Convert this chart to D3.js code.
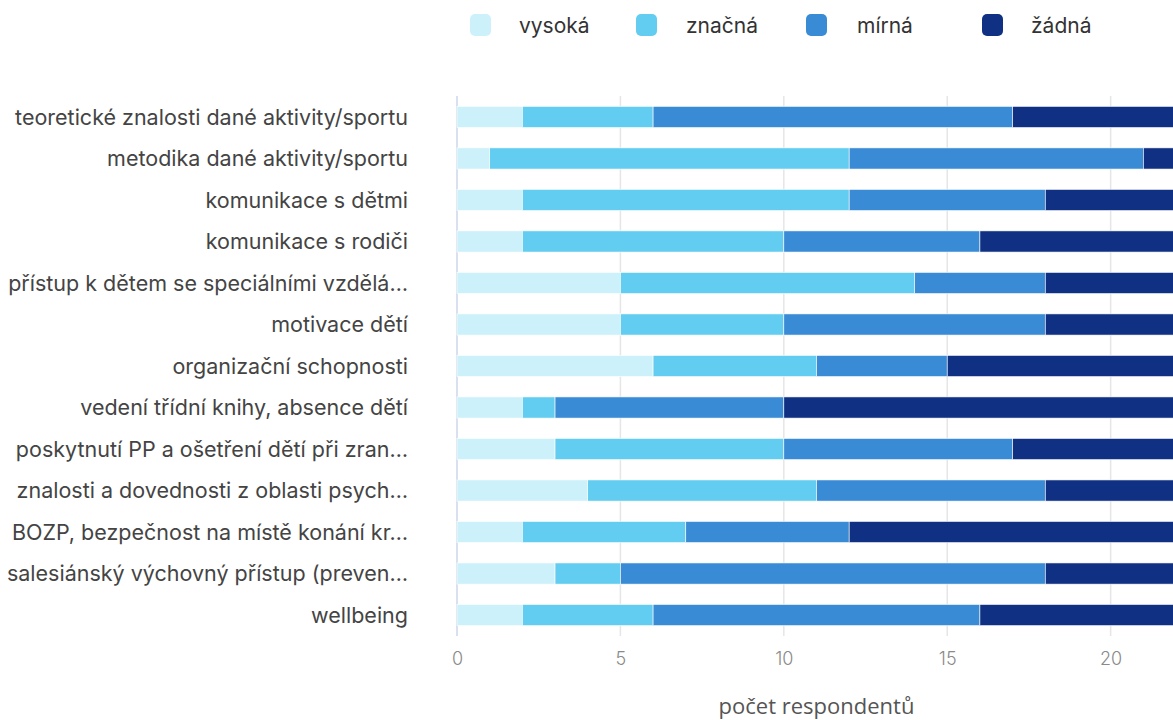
<!DOCTYPE html>
<html>
<head>
<meta charset="utf-8">
<script src="https://cdn.jsdelivr.net/npm/d3@7"></script>
<style>
  body { margin: 0; background: #fff; }
  svg text { font-family: Inter, "Noto Sans", sans-serif; }
</style>
</head>
<body>
<svg></svg>
<script>
const categories = [
    "teoretické znalosti dané aktivity/sportu",
    "metodika dané aktivity/sportu",
    "komunikace s dětmi",
    "komunikace s rodiči",
    "přístup k dětem se speciálními vzdělá…",
    "motivace dětí",
    "organizační schopnosti",
    "vedení třídní knihy, absence dětí",
    "poskytnutí PP a ošetření dětí při zran…",
    "znalosti a dovednosti z oblasti psych…",
    "BOZP, bezpečnost na místě konání kr…",
    "salesiánský výchovný přístup (preven…",
    "wellbeing"
];
const seriesNames = ["vysoká", "značná", "mírná", "žádná"];
const vysoka = [2, 1, 2, 2, 5, 5, 6, 2, 3, 4, 2, 3, 2];
const znacna = [4, 11, 10, 8, 9, 5, 5, 1, 7, 7, 5, 2, 4];
const mirna  = [11, 9, 6, 6, 4, 8, 4, 7, 7, 7, 5, 13, 10];
const zadna  = [5, 1, 4, 6, 4, 4, 7, 12, 5, 4, 10, 4, 6];
const xTicks = [0, 5, 10, 15, 20];
const colors = ["#cdf1fa", "#62cdf0", "#3a8bd6", "#103183"];

const svgWidth = 1173, svgHeight = 720;
const margin = { top: 96, right: 0, bottom: 84, left: 457 };
const width = 719;
const height = svgHeight - margin.top - margin.bottom;

const svg = d3.select("svg")
    .attr("width", svgWidth)
    .attr("height", svgHeight);

const rows = categories.map(function(c, i) {
    return { cat: c, "vysoká": vysoka[i], "značná": znacna[i], "mírná": mirna[i], "žádná": zadna[i] };
});
const stacked = d3.stack().keys(seriesNames)(rows);

const x = d3.scaleLinear().domain([0, 22]).range([0, width]);
const y = d3.scaleBand().domain(categories).range([0, height]).paddingInner(0.49).paddingOuter(0.25);

const g = svg.append("g")
    .attr("transform", "translate(" + margin.left + "," + margin.top + ")");

// grid
g.append("g")
    .selectAll("line")
    .data(xTicks.slice(1))
    .join("line")
    .attr("x1", d => x(d)).attr("x2", d => x(d))
    .attr("y1", 0).attr("y2", height)
    .attr("stroke", "#e6e6e6")
    .attr("stroke-width", 1.5);

g.append("line")
    .attr("x1", 0).attr("x2", 0)
    .attr("y1", 0).attr("y2", height)
    .attr("stroke", "#ccd6eb")
    .attr("stroke-width", 1.5);

// bars
g.append("g")
    .selectAll("g")
    .data(stacked)
    .join("g")
    .attr("fill", (d, i) => colors[i])
    .selectAll("rect")
    .data(d => d)
    .join("rect")
    .attr("x", d => x(d[0]))
    .attr("y", d => y(d.data.cat))
    .attr("width", d => x(d[1]) - x(d[0]))
    .attr("height", y.bandwidth())
    .attr("stroke", "#fff")
    .attr("stroke-width", 0.6);

// x axis
const xAxis = g.append("g")
    .attr("transform", "translate(0," + height + ")")
    .call(d3.axisBottom(x).tickValues(xTicks).tickSize(0).tickPadding(16));
xAxis.select(".domain").remove();
xAxis.selectAll("text")
    .attr("fill", "#8a8a8a")
    .style("font-size", "18px")
    .style("font-weight", 300);

g.append("text")
    .attr("x", x(11))
    .attr("y", height + 78)
    .attr("text-anchor", "middle")
    .attr("fill", "#555")
    .style("font-size", "22px")
    .style("font-family", "'Open Sans', sans-serif")
    .text("počet respondentů");

// y axis
const yAxis = g.append("g")
    .call(d3.axisLeft(y).tickSize(0).tickPadding(49));
yAxis.select(".domain").remove();
yAxis.selectAll("text")
    .attr("fill", "#444")
    .attr("dy", "0.36em")
    .style("font-size", "21.5px");

// legend
const legendX = [470, 636, 806, 982];
const legend = svg.append("g")
    .selectAll("g")
    .data(seriesNames)
    .join("g")
    .attr("transform", (d, i) => "translate(" + legendX[i] + ",14)");
legend.append("rect")
    .attr("width", 21).attr("height", 22)
    .attr("rx", 5)
    .attr("fill", (d, i) => colors[i]);
legend.append("text")
    .attr("x", (d, i) => [49, 50, 51, 49][i])
    .attr("y", 19)
    .attr("fill", "#333")
    .style("font-size", "21px")
    .text(d => d);
</script>
</body>
</html>
